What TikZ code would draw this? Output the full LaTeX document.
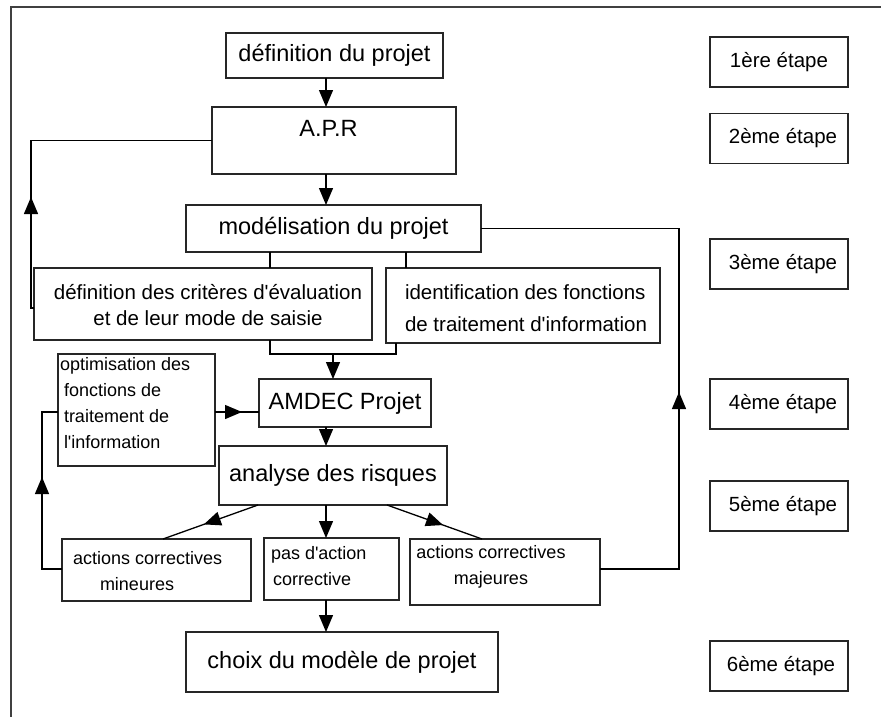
\documentclass[tikz,border=0pt]{standalone}
\usepackage{fontspec}
\setmainfont{Liberation Sans}[Ligatures=TeXOff]
\usetikzlibrary{arrows.meta,decorations.markings}
\begin{document}
\begin{tikzpicture}[x=1pt,y=-1pt,
  box/.style={draw=black!85,line width=1.4pt,inner sep=0pt,outer sep=0pt,anchor=center},
  big/.style={font=\fontsize{23.5}{28}\selectfont},
  med/.style={font=\fontsize{20.5}{26}\selectfont},
  medw/.style={font=\fontsize{20.5}{32}\selectfont},
  sml/.style={font=\fontsize{18}{26}\selectfont},
  txt/.style={inner sep=0pt,outer sep=0pt},
  conn/.style={line width=1.3pt,draw=black},
  tip/.tip={Triangle[length=17pt,width=14pt]},
  arr/.style={conn,-tip},
  midarr/.style={conn,postaction={decorate},decoration={markings,mark=at position #1 with {\arrow{tip}}}},
  framestyle/.style={line width=1.8pt,draw=black!75}
]
\useasboundingbox (0,0) rectangle (881,717);
\draw[framestyle] (11,717) -- (11,7) -- (881,7);

% main boxes
\node[box,minimum width=217pt,minimum height=45pt,big] (def) at (334.5,55.5) {définition du projet};
\node[box,minimum width=244pt,minimum height=67pt] (apr) at (334,140.5) {};
\node[txt,big] (aprt) at (328.5,128) {A.P.R};
\node[box,minimum width=295pt,minimum height=47pt,big] (mod) at (333.5,228.5) {\raisebox{3pt}{modélisation du projet}};
\node[box,minimum width=338pt,minimum height=72pt] (crit) at (203,304) {};
\node[txt,med,align=center] (critt) at (208,305) {définition des critères d'évaluation\\et de leur mode de saisie};
\node[box,minimum width=274pt,minimum height=75pt] (ident) at (523,305.5) {};
\node[txt,medw,align=left,anchor=west] (identt) at (405,308) {identification des fonctions\\de traitement d'information};
\node[box,minimum width=157pt,minimum height=112pt] (optim) at (136.5,410) {};
\node[txt,sml,align=left,anchor=west] (optimt) at (60,403) {optimisation des\\\hspace*{4pt}fonctions de\\\hspace*{4pt}traitement de\\\hspace*{4pt}l'information};
\node[box,minimum width=172pt,minimum height=48pt,big] (amdec) at (345,403) {AMDEC Projet};
\node[box,minimum width=228pt,minimum height=59pt,big] (analyse) at (333,475.5) {\raisebox{2pt}{analyse des risques}};
\node[box,minimum width=189pt,minimum height=62pt] (mineures) at (156.5,570) {};
\node[txt,sml,align=left,anchor=west] (mineurest) at (73,571) {actions correctives\\\hspace*{27pt}mineures};
\node[box,minimum width=135pt,minimum height=62pt] (pas) at (331.5,569) {};
\node[txt,sml,align=left,anchor=west] (past) at (271,566) {pas d'action\\\hspace*{2pt}corrective};
\node[box,minimum width=190pt,minimum height=66pt] (majeures) at (505,572) {};
\node[txt,sml,align=center] (majeurest) at (491,567) {actions correctives\\majeures};
\node[box,minimum width=312pt,minimum height=60pt,big] (choix) at (342,662) {choix du modèle de projet};

% step boxes
\node[box,minimum width=138pt,minimum height=50pt,med] (s1) at (779,62) {1ère étape};
\node[box,minimum width=138pt,minimum height=50pt,med] (s2) at (779,138.5) {\hspace*{8pt}2ème étape};
\node[box,minimum width=138pt,minimum height=50pt,med] (s3) at (779,264) {\hspace*{8pt}3ème étape};
\node[box,minimum width=138pt,minimum height=50pt,med] (s4) at (779,404) {\hspace*{8pt}4ème étape};
\node[box,minimum width=138pt,minimum height=50pt,med] (s5) at (779,506) {\hspace*{8pt}5ème étape};
\node[box,minimum width=138pt,minimum height=50pt,med] (s6) at (779,666) {\hspace*{4pt}6ème étape};

% helper coordinates
\coordinate (ax) at (326,0);
\coordinate (cx) at (270,0);
\coordinate (ix) at (406,0);
\coordinate (jx) at (396,0);
\coordinate (mj) at (333,354);
\coordinate (fl) at (31,308);
\coordinate (oy) at (0,412);
\coordinate (ml) at (42,569);
\coordinate (mr) at (679,569);
\coordinate (dl1) at (258,0);
\coordinate (dl2) at (163,0);
\coordinate (dr1) at (387,0);
\coordinate (dr2) at (482,0);

% main vertical flow
\draw[arr] (ax |- def.south) -- (ax |- apr.north);
\draw[arr] (ax |- apr.south) -- (ax |- mod.north);
\draw[conn] (cx |- mod.south) -- (cx |- crit.north);
\draw[conn] (ix |- mod.south) -- (ix |- ident.north);
\draw[conn] (cx |- crit.south) |- (mj) -| (jx |- ident.south);
\draw[arr] (mj) -- (mj |- amdec.north);
\draw[arr] (ax |- amdec.south) -- (ax |- analyse.north);
\draw[arr] (ax |- analyse.south) -- (ax |- pas.north);
\draw[arr] (ax |- pas.south) -- (ax |- choix.north);

% diagonals
\draw[midarr=0.57] (dl1 |- analyse.south) -- (dl2 |- mineures.north);
\draw[midarr=0.59] (dr1 |- analyse.south) -- (dr2 |- majeures.north);

% feedback loops
\draw[midarr=114pt] (fl -| crit.west) -- (fl) |- (apr.west);
\draw[midarr=27pt] (optim.east |- oy) -- (amdec.west |- oy);
\draw[midarr=112pt] (mineures.west |- ml) -- (ml) |- (optim.west |- oy);
\draw[midarr=256pt] (majeures.east |- mr) -- (mr) |- (mod.east);
\end{tikzpicture}
\end{document}
